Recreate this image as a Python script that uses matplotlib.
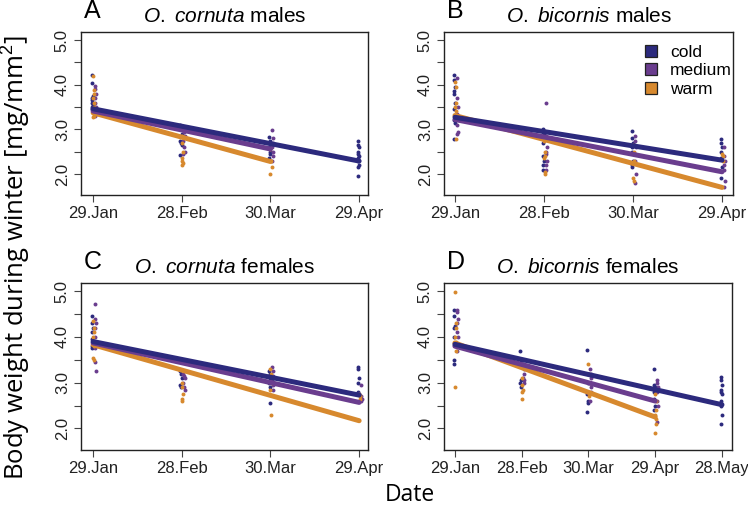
import matplotlib
matplotlib.use("Agg")
import matplotlib.pyplot as plt
from matplotlib.lines import Line2D

plt.rcParams["font.family"] = ["Liberation Sans", "DejaVu Sans"]
plt.rcParams["mathtext.fontset"] = "custom"
plt.rcParams["mathtext.rm"] = "Liberation Sans"
plt.rcParams["mathtext.it"] = "Liberation Sans:italic"

# colours per temperature treatment
COLORS = {"cold": "#2c2a7d", "medium": "#6a3d8e", "warm": "#d7892e"}
GROUPS = ["cold", "medium", "warm"]

dates4 = ["29.Jan", "28.Feb", "30.Mar", "29.Apr"]
dates5 = ["29.Jan", "28.Feb", "30.Mar", "29.Apr", "28.May"]

# --- A: O. cornuta males: points per sampling date
a_cold = [
    [4.22, 4.03, 3.75, 3.7, 3.6, 3.55, 3.5, 3.45, 3.4, 3.65],
    [3.1, 3.0, 2.9, 2.75, 2.7, 2.65, 2.42],
    [2.82, 2.75, 2.7, 2.6, 2.5, 2.45, 2.35],
    [2.75, 2.65, 2.6, 2.5, 2.45, 2.4, 2.35, 2.3, 2.2, 2.15, 1.95],
]
a_medium = [
    [3.98, 3.9, 3.8, 3.7, 3.6, 3.5, 3.45, 3.4, 3.35, 3.3],
    [3.05, 2.95, 2.85, 2.75, 2.6, 2.5, 2.45],
    [2.98, 2.8, 2.7, 2.6, 2.5, 2.4, 2.3],
]
a_warm = [
    [4.2, 3.88, 3.8, 3.7, 3.6, 3.5, 3.4, 3.35, 3.3, 3.28],
    [2.85, 2.7, 2.5, 2.35, 2.3, 2.25, 2.2],
    [2.55, 2.3, 2.15, 2.0],
]
# fitted line: (start value, end value)
a_fit = {"cold": (3.46, 2.29), "medium": (3.41, 2.56), "warm": (3.37, 2.28)}

# --- B: O. bicornis males
b_cold = [
    [4.22, 4.1, 3.95, 3.85, 3.8, 3.6, 3.45, 3.2, 3.15, 2.78],
    [3.0, 2.95, 2.9, 2.7, 2.4, 2.3, 2.2, 2.1],
    [2.97, 2.8, 2.7, 2.6, 2.5, 2.3, 2.2, 2.15],
    [2.78, 2.7, 2.6, 2.5, 2.35, 2.15, 1.9],
]
b_medium = [
    [4.15, 3.7, 3.5, 3.35, 3.1, 2.95, 2.9],
    [3.58, 2.85, 2.6, 2.5, 2.45, 2.3, 2.2, 2.1],
    [2.85, 2.75, 2.6, 2.45, 2.3, 2.0, 1.8],
    [2.6, 2.4, 2.3, 2.2, 2.1, 1.85, 1.7],
]
b_warm = [
    [4.05, 3.95, 3.6, 3.5, 3.4, 3.3, 3.25, 2.78],
    [2.75, 2.5, 2.4, 2.35, 2.05, 2.0],
    [2.65, 2.5, 2.3, 1.9, 1.85],
    [2.45, 2.4, 2.3],
]
b_fit = {"cold": (3.27, 2.31), "medium": (3.22, 2.05), "warm": (3.31, 1.70)}

# --- C: O. cornuta females
c_cold = [
    [4.46, 4.3, 4.2, 4.1, 3.95, 3.85, 3.8, 3.75],
    [3.25, 3.2, 3.1, 2.95, 2.9],
    [3.25, 3.2, 3.1, 3.0, 2.9, 2.55],
    [3.35, 3.3, 3.1, 3.0, 2.8, 2.75],
]
c_medium = [
    [4.72, 4.4, 4.3, 4.2, 4.0, 3.9, 3.75, 3.45, 3.25],
    [3.2, 3.15, 3.1, 3.0, 2.9, 2.85],
    [3.35, 3.25, 3.15, 3.05, 2.95, 2.85],
    [2.95, 2.7, 2.65, 2.6],
]
c_warm = [
    [4.35, 4.2, 4.1, 4.0, 3.9, 3.8, 3.55, 3.5],
    [3.0, 2.9, 2.75, 2.65, 2.6],
    [3.3, 3.2, 3.0, 2.85, 2.3],
    [2.75, 2.7, 2.65],
]
c_fit = {"cold": (3.90, 2.73), "medium": (3.87, 2.57), "warm": (3.83, 2.17)}

# --- D: O. bicornis females
d_cold = [
    [4.6, 4.45, 4.25, 4.2, 4.0, 3.85, 3.5, 3.4],
    [3.7, 3.5, 3.05, 3.0, 2.9],
    [3.72, 3.2, 3.0, 2.75, 2.6, 2.55, 2.35],
    [3.3, 2.95, 2.9, 2.8, 2.65, 2.5, 2.4],
    [3.13, 3.05, 2.95, 2.85, 2.8, 2.75, 2.6, 2.5, 2.3, 2.1],
]
d_medium = [
    [4.6, 4.55, 4.4, 4.3, 4.1, 4.0, 3.85, 3.7],
    [3.4, 3.3, 3.2, 3.1, 3.05, 3.0],
    [3.3, 3.2, 3.1, 3.0, 2.9, 2.8, 2.6],
    [3.05, 3.0, 2.9, 2.8, 2.6, 2.5, 2.15],
]
d_warm = [
    [4.98, 4.3, 4.2, 4.0, 3.9, 3.7, 2.9],
    [3.1, 2.95, 2.85, 2.8, 2.65],
    [3.4, 3.2, 3.0, 2.8, 2.7],
    [2.75, 2.6, 2.4, 2.3, 2.2, 2.1, 1.9],
]
d_fit = {"cold": (3.84, 2.52), "medium": (3.80, 2.60), "warm": (3.87, 2.25)}

W, H = 748, 509


def px_axes(fig, left, right, top, bottom):
    return fig.add_axes([left / W, 1 - bottom / H, (right - left) / W, (bottom - top) / H])


def draw_panel(ax, letter, species, sex, dates, pts, fits, xlim, day_px):
    step = 30
    # small horizontal shift per group, in pixels
    offsets = {"cold": -0.8, "warm": 0.6, "medium": 2.2}
    for g in GROUPS:
        for k, vals in enumerate(pts[g]):
            xs = [k * step + (offsets[g] + ((i % 3) - 1) * 0.6) / day_px
                  for i in range(len(vals))]
            ax.scatter(xs, vals, s=8, color=COLORS[g], linewidths=0, zorder=2)
    for g in ["warm", "medium", "cold"]:
        n = len(pts[g])
        ax.plot([0, (n - 1) * step], list(fits[g]), color=COLORS[g], lw=3.6,
                solid_capstyle="round", zorder=3)
    ax.set_xlim(*xlim)
    ax.set_ylim(1.53, 5.18)
    ax.set_xticks([i * step for i in range(len(dates))])
    ax.set_xticklabels(dates)
    ax.set_yticks([2.0, 2.5, 3.0, 3.5, 4.0, 4.5, 5.0])
    ax.set_yticklabels(["2.0", "", "3.0", "", "4.0", "", "5.0"], rotation=90, va="center")
    ax.tick_params(axis="both", labelsize=12, length=5, width=0.8, colors="#444444",
                   labelcolor="#222222")
    ax.tick_params(axis="x", pad=3)
    ax.tick_params(axis="y", pad=3)
    for s in ax.spines.values():
        s.set_linewidth(1.0)
        s.set_color("#222222")
    h = ax.get_position().height * H
    ax.text(0.5, 1 + 10 / h, "$\\mathit{O.}$ $\\mathit{" + species + "}$ " + sex,
            transform=ax.transAxes, ha="center", va="baseline", fontsize=15)
    ax.text(0.01, 1 + 14 / h, letter, transform=ax.transAxes, ha="left", va="baseline",
            fontsize=18)


fig = plt.figure(figsize=(W / 100, H / 100), dpi=100)

axA = px_axes(fig, 81, 368, 32, 195)
axB = px_axes(fig, 444, 733, 32, 195)
axC = px_axes(fig, 81, 368, 283, 450)
axD = px_axes(fig, 444, 732, 283, 450)

draw_panel(axA, "A", "cornuta", "males", dates4,
           {"cold": a_cold, "medium": a_medium, "warm": a_warm}, a_fit, (-4.1, 93.0), 2.96)
draw_panel(axB, "B", "bicornis", "males", dates4,
           {"cold": b_cold, "medium": b_medium, "warm": b_warm}, b_fit, (-3.7, 93.7), 2.97)
draw_panel(axC, "C", "cornuta", "females", dates4,
           {"cold": c_cold, "medium": c_medium, "warm": c_warm}, c_fit, (-4.1, 93.0), 2.96)
draw_panel(axD, "D", "bicornis", "females", dates5,
           {"cold": d_cold, "medium": d_medium, "warm": d_warm}, d_fit, (-4.9, 124.5), 2.22)

handles = [Line2D([], [], marker="s", ls="none", markersize=8.5, markerfacecolor=COLORS[g],
                  markeredgecolor="#222222", markeredgewidth=0.9) for g in GROUPS]
axB.legend(handles, GROUPS, loc="upper right", frameon=False, fontsize=12.5,
           handletextpad=0.5, labelspacing=0.2, borderaxespad=0.0,
           bbox_to_anchor=(1.02, 0.965), handlelength=1.2)

fig.text(16 / W, 1 - 258 / H, "Body weight during winter [mg/mm$^2$]", rotation=90,
         ha="center", va="center", fontsize=18.5, family=["Open Sans", "DejaVu Sans"])
fig.text(410 / W, 1 - 495 / H, "Date", ha="center", va="center", fontsize=16.5,
         family=["Open Sans", "DejaVu Sans"])

fig.savefig("out.png", dpi=100)
